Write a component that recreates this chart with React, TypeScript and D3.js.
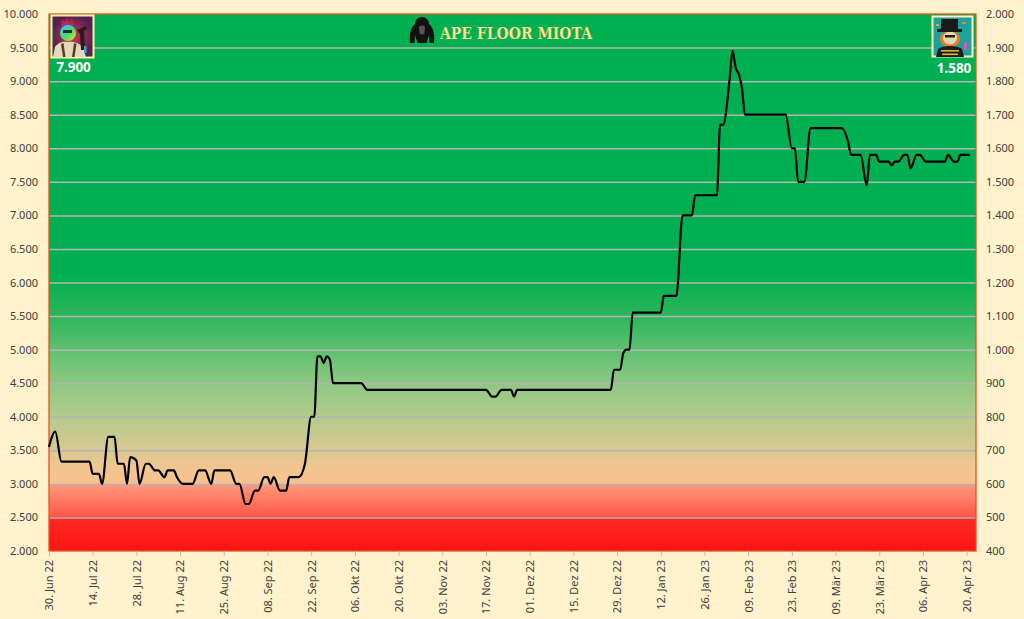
import React, { useEffect, useRef } from "react";
import * as d3 from "d3";

// floor price in MIOTA
const floorDates = [
  "2022-06-30", "2022-07-02", "2022-07-04", "2022-07-13", "2022-07-14", "2022-07-16", "2022-07-17",
  "2022-07-19", "2022-07-21", "2022-07-22", "2022-07-24", "2022-07-25", "2022-07-26", "2022-07-28",
  "2022-07-29", "2022-07-31", "2022-08-01", "2022-08-03", "2022-08-04", "2022-08-06", "2022-08-07",
  "2022-08-09", "2022-08-10", "2022-08-12", "2022-08-15", "2022-08-17", "2022-08-19", "2022-08-21",
  "2022-08-22", "2022-08-27", "2022-08-29", "2022-08-30", "2022-09-01", "2022-09-02", "2022-09-04",
  "2022-09-05", "2022-09-07", "2022-09-08", "2022-09-09", "2022-09-10", "2022-09-12", "2022-09-14",
  "2022-09-15", "2022-09-18", "2022-09-20", "2022-09-22", "2022-09-23", "2022-09-24", "2022-09-25",
  "2022-09-26", "2022-09-27", "2022-09-28", "2022-09-29", "2022-10-08", "2022-10-10", "2022-11-17",
  "2022-11-19", "2022-11-20", "2022-11-22", "2022-11-25", "2022-11-26", "2022-11-27", "2022-12-27",
  "2022-12-28", "2022-12-30", "2022-12-31", "2023-01-01", "2023-01-02", "2023-01-03", "2023-01-12",
  "2023-01-13", "2023-01-17", "2023-01-19", "2023-01-22", "2023-01-23", "2023-01-30", "2023-01-31",
  "2023-02-01", "2023-02-03", "2023-02-04", "2023-02-05", "2023-02-06", "2023-02-07", "2023-02-08",
  "2023-02-21", "2023-02-23", "2023-02-24", "2023-02-25", "2023-02-27", "2023-03-01", "2023-03-11",
  "2023-03-13", "2023-03-14", "2023-03-17", "2023-03-19", "2023-03-20", "2023-03-22", "2023-03-23",
  "2023-03-26", "2023-03-27", "2023-03-28", "2023-03-29", "2023-03-31", "2023-04-01", "2023-04-02",
  "2023-04-04", "2023-04-05", "2023-04-07", "2023-04-13", "2023-04-14", "2023-04-16", "2023-04-17",
  "2023-04-18", "2023-04-21",
];
const floorValues = [
  3550, 3780, 3330, 3330, 3150, 3150, 3000,
  3700, 3700, 3300, 3300, 3000, 3400, 3350,
  3000, 3300, 3300, 3200, 3200, 3100, 3200,
  3200, 3100, 3000, 3000, 3200, 3200, 3000,
  3200, 3200, 3000, 3000, 2700, 2700, 2900,
  2900, 3100, 3100, 3000, 3100, 2900, 2900,
  3100, 3100, 3300, 4000, 4000, 4900, 4900,
  4800, 4900, 4850, 4500, 4500, 4400, 4400,
  4300, 4300, 4400, 4400, 4300, 4400, 4400,
  4700, 4700, 4950, 5000, 5000, 5550, 5550,
  5800, 5800, 7000, 7000, 7300, 7300, 8350,
  8350, 9000, 9450, 9200, 9100, 8900, 8500,
  8500, 8000, 8000, 7500, 7500, 8300, 8300,
  8100, 7900, 7900, 7450, 7900, 7900, 7800,
  7800, 7750, 7800, 7800, 7900, 7900, 7700,
  7900, 7900, 7800, 7800, 7900, 7800, 7800,
  7900, 7900,
];

const xTickDates = [
  "2022-06-30", "2022-07-14", "2022-07-28", "2022-08-11", "2022-08-25", "2022-09-08", "2022-09-22",
  "2022-10-06", "2022-10-20", "2022-11-03", "2022-11-17", "2022-12-01", "2022-12-15", "2022-12-29",
  "2023-01-12", "2023-01-26", "2023-02-09", "2023-02-23", "2023-03-09", "2023-03-23", "2023-04-06",
  "2023-04-20",
];
const xDomain = ["2022-06-30", "2023-04-23"];
const leftTicks = [2000, 2500, 3000, 3500, 4000, 4500, 5000, 5500, 6000, 6500, 7000, 7500, 8000, 8500, 9000, 9500, 10000];
const rightTicks = [400, 500, 600, 700, 800, 900, 1000, 1100, 1200, 1300, 1400, 1500, 1600, 1700, 1800, 1900, 2000];

const chartTitle = "APE FLOOR MIOTA";
const leftBadge = "7.900";
const rightBadge = "1.580";

const numLocale = d3.formatLocale({ decimal: ",", thousands: ".", grouping: [3], currency: ["", " €"] });
const numFmt = numLocale.format(",d");
const timeLocale = d3.timeFormatLocale({
  dateTime: "%A, der %e. %B %Y, %X",
  date: "%d.%m.%Y",
  time: "%H:%M:%S",
  periods: ["AM", "PM"],
  days: ["Sonntag", "Montag", "Dienstag", "Mittwoch", "Donnerstag", "Freitag", "Samstag"],
  shortDays: ["So", "Mo", "Di", "Mi", "Do", "Fr", "Sa"],
  months: ["Januar", "Februar", "März", "April", "Mai", "Juni", "Juli", "August", "September", "Oktober", "November", "Dezember"],
  shortMonths: ["Jan", "Feb", "Mär", "Apr", "Mai", "Jun", "Jul", "Aug", "Sep", "Okt", "Nov", "Dez"],
});
const dateFmt = timeLocale.format("%d. %b %y");
const parse = d3.timeParse("%Y-%m-%d");

const FONT = "'Noto Sans', 'Liberation Sans', sans-serif";

const App: React.FC = () => {
  const svgRef = useRef<SVGSVGElement | null>(null);

  useEffect(() => {
    if (!svgRef.current) return;
    const width = 1024;
    const height = 619;
    const plot = { left: 49, right: 976, top: 14, bottom: 551 };

    const x = d3.scaleTime()
      .domain(xDomain.map(d => parse(d) as Date))
      .range([plot.left, plot.right]);
    const y = d3.scaleLinear().domain([2000, 10000]).range([plot.bottom, plot.top]);
    const yRight = d3.scaleLinear().domain([400, 2000]).range([plot.bottom, plot.top]);

    const svg = d3.select(svgRef.current);
    svg.selectAll("*").remove();

    svg.append("rect").attr("width", width).attr("height", height).attr("fill", "#fff2cc");

    const defs = svg.append("defs");
    const bgStops: [number, string][] = [
      [10000, "#00b050"], [6100, "#00b050"], [5500, "#2cb55a"], [5000, "#5ec070"],
      [4500, "#8ec880"], [4000, "#b3cc8c"], [3500, "#d9c891"], [3250, "#f2c590"],
      [3001, "#fbc18e"], [2999, "#ff9a7c"], [2750, "#ff7862"], [2501, "#ff5446"],
      [2499, "#ff2a22"], [2000, "#ff1414"],
    ];
    const grad = defs.append("linearGradient")
      .attr("id", "bg-grad")
      .attr("gradientUnits", "userSpaceOnUse")
      .attr("x1", 0).attr("y1", plot.top)
      .attr("x2", 0).attr("y2", plot.bottom);
    bgStops.forEach(([v, c]) => {
      grad.append("stop")
        .attr("offset", (y(v) - plot.top) / (plot.bottom - plot.top))
        .attr("stop-color", c);
    });

    svg.append("rect")
      .attr("x", plot.left).attr("y", plot.top)
      .attr("width", plot.right - plot.left).attr("height", plot.bottom - plot.top)
      .attr("fill", "url(#bg-grad)");

    // gridlines
    const grid = svg.append("g")
      .attr("transform", `translate(${plot.left},0)`)
      .call(d3.axisLeft(y).tickValues(leftTicks.slice(1, -1)).tickSize(-(plot.right - plot.left)).tickFormat(() => ""));
    grid.select(".domain").remove();
    grid.selectAll("line").attr("stroke", "#b4b4b4").attr("stroke-width", 1.5);

    // plot border
    svg.append("rect")
      .attr("x", plot.left).attr("y", plot.top)
      .attr("width", plot.right - plot.left).attr("height", plot.bottom - plot.top)
      .attr("fill", "none").attr("stroke", "#e4531e").attr("stroke-width", 1.3);

    // left axis
    const gl = svg.append("g")
      .attr("transform", `translate(${plot.left},0)`)
      .call(d3.axisLeft(y).tickValues(leftTicks).tickSize(0).tickPadding(11).tickFormat(d => numFmt(d as number)));
    gl.select(".domain").remove();
    gl.selectAll("text").attr("font-family", FONT).attr("font-size", 11).attr("fill", "#404040");

    // right axis
    const gr = svg.append("g")
      .attr("transform", `translate(${plot.right},0)`)
      .call(d3.axisRight(yRight).tickValues(rightTicks).tickSize(0).tickPadding(10).tickFormat(d => numFmt(d as number)));
    gr.select(".domain").remove();
    gr.selectAll("text").attr("font-family", FONT).attr("font-size", 11).attr("fill", "#404040");

    // bottom axis
    const gb = svg.append("g")
      .attr("transform", `translate(0,${plot.bottom})`)
      .call(d3.axisBottom(x).tickValues(xTickDates.map(d => parse(d) as Date)).tickSize(5).tickFormat(d => dateFmt(d as Date)));
    gb.select(".domain").remove();
    gb.selectAll("line").attr("stroke", "#bfbfbf");
    gb.selectAll("text")
      .attr("font-family", FONT).attr("font-size", 11).attr("fill", "#404040")
      .attr("text-anchor", "end")
      .attr("transform", "translate(0,9) rotate(-90)")
      .attr("x", 0).attr("y", 0).attr("dy", "0.35em");

    // floor line
    const points: [Date, number][] = floorDates.map((d, i) => [parse(d) as Date, floorValues[i]]);
    const line = d3.line<[Date, number]>()
      .x(d => x(d[0]))
      .y(d => y(d[1]))
      .curve(d3.curveMonotoneX);
    svg.append("path")
      .datum(points)
      .attr("d", line)
      .attr("fill", "none")
      .attr("stroke", "#000")
      .attr("stroke-width", 2.2)
      .attr("stroke-linejoin", "round");

    // title with gorilla icon
    const title = svg.append("g");
    title.append("path")
      .attr("d", "M422 17 C417 17 415 21 415 24 C411 27 409 34 410 43 L414.5 43 L415 35 L417.5 43 L427 43 L428.5 35 L429.5 43 L434 43 C435 34 433 27 429 24 C429 20 426 17 422 17 Z")
      .attr("fill", "#111");
    title.append("path")
      .attr("d", "M419 27 C420 25 424 25 425 27 L424.5 33 C423 35 421 35 419.5 33 Z")
      .attr("fill", "#555");
    title.append("text")
      .attr("x", 440).attr("y", 39)
      .attr("textLength", 152).attr("lengthAdjust", "spacingAndGlyphs")
      .attr("font-family", "'DejaVu Serif', serif").attr("font-weight", "bold").attr("font-size", 16)
      .attr("fill", "#ffe699").attr("stroke", "#a08020").attr("stroke-width", 0.2)
      .text(chartTitle);

    // left avatar (ape portrait)
    const la = svg.append("g");
    const lbg = defs.append("radialGradient").attr("id", "lav-bg");
    lbg.append("stop").attr("offset", "0%").attr("stop-color", "#cf3b4e");
    lbg.append("stop").attr("offset", "100%").attr("stop-color", "#542052");
    const lface = defs.append("linearGradient").attr("id", "lav-face").attr("x1", 0).attr("y1", 0).attr("x2", 1).attr("y2", 1);
    lface.append("stop").attr("offset", "0%").attr("stop-color", "#3ec7ea");
    lface.append("stop").attr("offset", "55%").attr("stop-color", "#4fd96a");
    lface.append("stop").attr("offset", "100%").attr("stop-color", "#f0e02c");
    la.append("rect").attr("x", 51.5).attr("y", 15.5).attr("width", 42).attr("height", 42)
      .attr("fill", "url(#lav-bg)").attr("stroke", "#fff3a6").attr("stroke-width", 2);
    la.append("path").attr("d", "M61 26 L62 19 L65 22 L67 18 L69 22 L72 19 L74 26 Z").attr("fill", "#d0202e");
    la.append("path").attr("d", "M62 25 L66 22 L70 24 L73 25 L73 27 L62 27 Z").attr("fill", "#7a3cc4");
    la.append("ellipse").attr("cx", 68).attr("cy", 33).attr("rx", 8).attr("ry", 8).attr("fill", "url(#lav-face)");
    la.append("rect").attr("x", 63).attr("y", 30).attr("width", 9).attr("height", 3).attr("fill", "#1d2a4a");
    la.append("path").attr("d", "M53 57 L55 47 C58 42 64 41 68 42 C73 41 79 43 83 47 L86 57 Z").attr("fill", "#e4d8bc");
    la.append("path").attr("d", "M61 44 L63 57 L65.5 57 L63.5 43 Z M74 43 L72 57 L74.5 57 L76.5 44 Z").attr("fill", "#5a3a22");
    la.append("path").attr("d", "M77 30 L86 26 L87 29 L84 31 L85 50 L81 50 L80 34 Z").attr("fill", "#2a1c1c");
    la.append("rect").attr("x", 84).attr("y", 46).attr("width", 2.5).attr("height", 7).attr("fill", "#40a0e0");

    // right avatar (ape with top hat)
    const ra = svg.append("g");
    ra.append("rect").attr("x", 932.5).attr("y", 16.5).attr("width", 40).attr("height", 40)
      .attr("fill", "#1aa29c").attr("stroke", "#fff3bf").attr("stroke-width", 2);
    ra.append("ellipse").attr("cx", 950).attr("cy", 39).attr("rx", 10).attr("ry", 8).attr("fill", "#f07a1c");
    ra.append("ellipse").attr("cx", 950).attr("cy", 38).attr("rx", 7).attr("ry", 6.5).attr("fill", "#e6d6b4");
    ra.append("rect").attr("x", 945).attr("y", 35).attr("width", 10).attr("height", 2.5).attr("fill", "#222");
    ra.append("rect").attr("x", 941).attr("y", 19).attr("width", 17).attr("height", 11).attr("fill", "#1a1a1a");
    ra.append("rect").attr("x", 937).attr("y", 29).attr("width", 25).attr("height", 3).attr("fill", "#1a1a1a");
    ra.append("path").attr("d", "M936 57 L938 49 C942 45 958 45 962 49 L964 57 Z").attr("fill", "#1e1e1e");
    ra.append("rect").attr("x", 941).attr("y", 50).attr("width", 18).attr("height", 1.6).attr("fill", "#e0b030");
    ra.append("rect").attr("x", 942).attr("y", 53.5).attr("width", 16).attr("height", 1.6).attr("fill", "#e0b030");
    ra.append("rect").attr("x", 962).attr("y", 22).attr("width", 4).attr("height", 2).attr("fill", "#f08a20");
    ra.append("rect").attr("x", 964).attr("y", 42).attr("width", 3).attr("height", 8).attr("fill", "#d85ab0");
    ra.append("rect").attr("x", 936).attr("y", 24).attr("width", 3).attr("height", 2).attr("fill", "#f0a030");

    // badges
    svg.append("text")
      .attr("x", 73.5).attr("y", 72).attr("text-anchor", "middle")
      .attr("font-family", FONT).attr("font-weight", "bold").attr("font-size", 13.5)
      .attr("fill", "#fff").text(leftBadge);
    svg.append("text")
      .attr("x", 954).attr("y", 73).attr("text-anchor", "middle")
      .attr("font-family", FONT).attr("font-weight", "bold").attr("font-size", 13.5)
      .attr("fill", "#fff").text(rightBadge);
  }, []);

  return (
    <svg
      ref={svgRef}
      width={1024}
      height={619}
      style={{ position: "absolute", left: 0, top: 0, display: "block" }}
    />
  );
};

export default App;
